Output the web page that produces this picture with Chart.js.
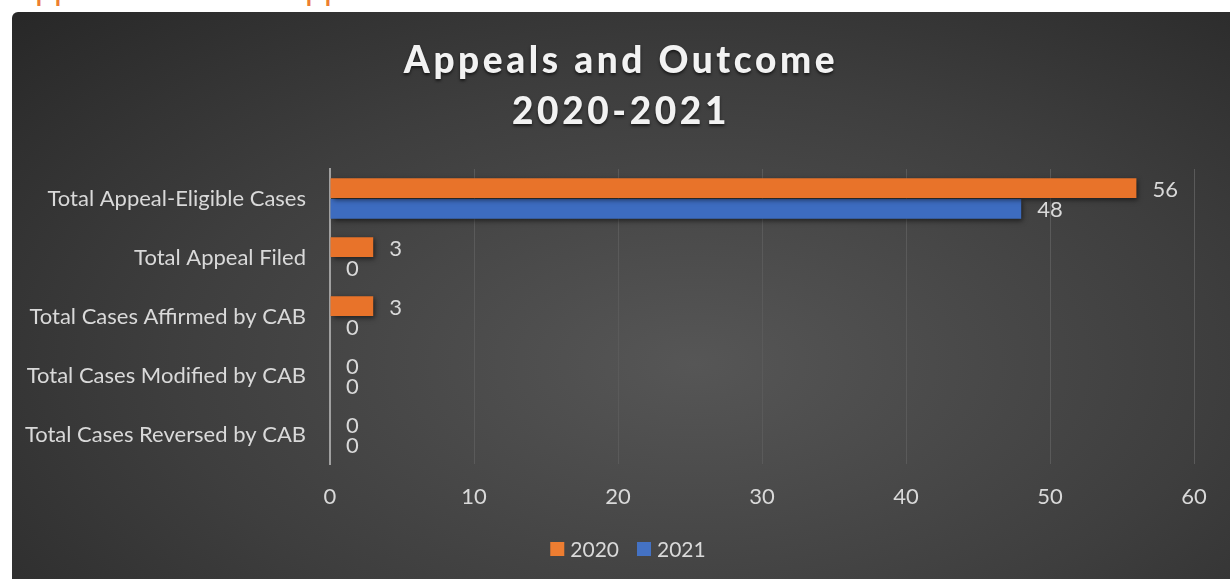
<!DOCTYPE html>
<html><head><meta charset="utf-8">
<script src="https://cdn.jsdelivr.net/npm/chart.js@4"></script>
<style>
html,body{margin:0;padding:0;background:#fff;width:1230px;height:579px;overflow:hidden;}
#top{position:absolute;left:0;top:0;width:1230px;height:6px;overflow:hidden;}
#top span{position:absolute;top:-30px;font:34px Lato, sans-serif;color:#ED7D31;line-height:34px;}
#wrap{position:absolute;left:12px;top:12px;width:1218px;height:567px;border-top-left-radius:6px;overflow:hidden;
background:radial-gradient(ellipse 78% 90% at 56% 62%, #565656 0%, #3e3e3e 55%, #272727 100%);}
#title{position:absolute;left:0;width:1218px;top:21px;text-align:center;color:#f2f2f2;font:900 37px Lato, sans-serif;letter-spacing:3.6px;line-height:51px;text-shadow:0 2px 3px rgba(0,0,0,0.6);}
canvas{position:absolute;left:0;top:0;}
</style></head><body>
<div id="top"><span style="left:12px">Appeals</span><span style="left:282px">Appeals</span></div>
<div id="wrap">
<canvas id="c" width="1218" height="567"></canvas>
<div id="title">Appeals and Outcome<br>2020-2021</div>
</div>
<script>
const categories = ["Total Appeal-Eligible Cases","Total Appeal Filed","Total Cases Affirmed by CAB","Total Cases Modified by CAB","Total Cases Reversed by CAB"];
const values2020 = [56,3,3,0,0];
const values2021 = [48,0,0,0,0];
const seriesNames = ["2020","2021"];
const seriesColors = ["#ED7D31","#4472C4"];
const xTicks = [0,10,20,30,40,50,60];

function grad(ctx, c1, c2){
  const ch = ctx.chart; const el = ctx.element;
  if(!el || !ch.chartArea || !isFinite(el.y) || !isFinite(el.height) || el.height<=0) return c2;
  const h = el.height;
  const g = ch.ctx.createLinearGradient(0, el.y - h/2, 0, el.y + h/2);
  g.addColorStop(0, c1); g.addColorStop(1, c2); return g;
}
const labelPlugin = {
  id:'vlabels',
  afterDatasetsDraw(chart){
    const ctx = chart.ctx; ctx.save();
    ctx.font = '22px Lato, sans-serif'; ctx.fillStyle = '#d9d9d9';
    ctx.textAlign='left'; ctx.textBaseline='middle';
    chart.data.datasets.forEach((ds,i)=>{
      const meta = chart.getDatasetMeta(i);
      meta.data.forEach((el,j)=>{
        ctx.fillText(String(ds.data[j]), el.x + 16, el.y + 1.5);
      });
    });
    ctx.restore();
  }
};
const legendPlugin = {
  id:'customLegend',
  afterDraw(chart){
    const ctx = chart.ctx; ctx.save();
    ctx.font = '21px Lato, sans-serif'; ctx.textBaseline='middle'; ctx.textAlign='left';
    const box=14, gapText=6, gapItem=18;
    const items = chart.data.datasets.map((d,i)=>({t:d.label,c:seriesColors[i],w:ctx.measureText(d.label).width}));
    let total = items.reduce((s,it)=>s+box+gapText+it.w,0) + gapItem*(items.length-1);
    let x = 616 - total/2; const cy = 537;
    items.forEach(it=>{
      ctx.fillStyle = it.c; ctx.fillRect(x, cy-7, box, box);
      x += box+gapText;
      ctx.fillStyle = '#d9d9d9'; ctx.fillText(it.t, x, cy+1);
      x += it.w + gapItem;
    });
    ctx.restore();
  }
};
const shadowPlugin = {
  id:'shadow',
  beforeDatasetsDraw(chart){ const c=chart.ctx; c.save(); c.shadowColor='rgba(0,0,0,0.55)'; c.shadowBlur=5; c.shadowOffsetX=2; c.shadowOffsetY=2; },
  afterDatasetsDraw(chart){ chart.ctx.restore(); }
};
new Chart(document.getElementById('c'), {
  type:'bar',
  data:{labels:categories, datasets:[
    {label:seriesNames[0], data:values2020, backgroundColor:(c)=>grad(c,'#f59c5e','#e8732a'), borderWidth:0},
    {label:seriesNames[1], data:values2021, backgroundColor:(c)=>grad(c,'#5c8ade','#3d6cc0'), borderWidth:0}
  ]},
  options:{
    indexAxis:'y', responsive:false, animation:false,
    categoryPercentage:0.7, barPercentage:0.95,
    layout:{padding:{top:157,right:36,left:0,bottom:51}},
    scales:{
      x:{min:0,max:60, afterBuildTicks(s){s.ticks = xTicks.map(v=>({value:v}));},
         ticks:{color:'#d9d9d9',font:{family:'Lato',size:22},padding:20},
         grid:{color:'#5a5a5a',lineWidth:1,drawTicks:false},
         border:{display:false},
         afterFit(s){s.height=64;}},
      y:{ticks:{color:'#d9d9d9',font:{family:'Lato',size:22},padding:16},
         grid:{display:false},
         border:{display:true,color:'#a0a0a0',width:2},
         afterFit(s){s.width=318;}}
    },
    plugins:{
      title:{display:false},
      tooltip:{enabled:false},
      legend:{display:false}
    }
  },
  plugins:[shadowPlugin,labelPlugin,legendPlugin]
});
</script>
</body></html>
